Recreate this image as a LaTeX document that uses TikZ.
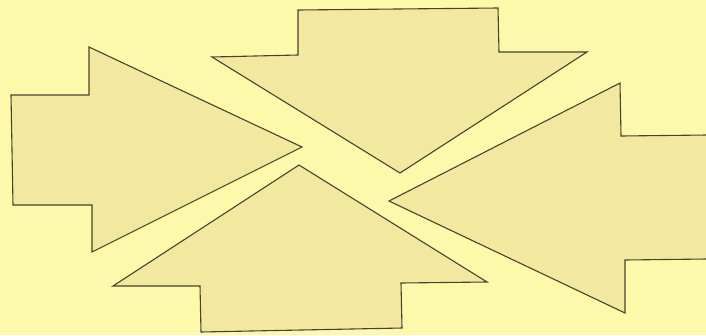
\documentclass[tikz,border=0pt]{standalone}
\definecolor{bg}{RGB}{253,249,170}
\definecolor{arrfill}{RGB}{242,232,160}
\definecolor{edge}{RGB}{70,68,45}
\begin{document}
\begin{tikzpicture}[x=1pt,y=-1pt,
  bigarrow/.style={fill=arrfill,draw=edge,line width=1.1pt,line join=miter}]
\useasboundingbox (0,0) rectangle (706,335);
\fill[bg] (0,0) rectangle (706,335);
% left arrow (points right)
\draw[bigarrow] (11,95) -- (89,95) -- (89,47) -- (302,147) -- (92,252) -- (92,205) -- (13,205) -- cycle;
% top arrow (points down)
\draw[bigarrow] (298,10) -- (498,8) -- (499,52) -- (587,52) -- (400,173) -- (212,57) -- (298,55) -- cycle;
% right arrow (points left), shaft runs off the right edge
\draw[bigarrow] (707,135) -- (621,136) -- (620,83) -- (389,201) -- (625,313) -- (625,260) -- (707,259);
% bottom arrow (points up)
\draw[bigarrow] (299,165) -- (487,282) -- (401,283) -- (402,328) -- (201,332) -- (200,286) -- (113,286) -- cycle;
\end{tikzpicture}
\end{document}
